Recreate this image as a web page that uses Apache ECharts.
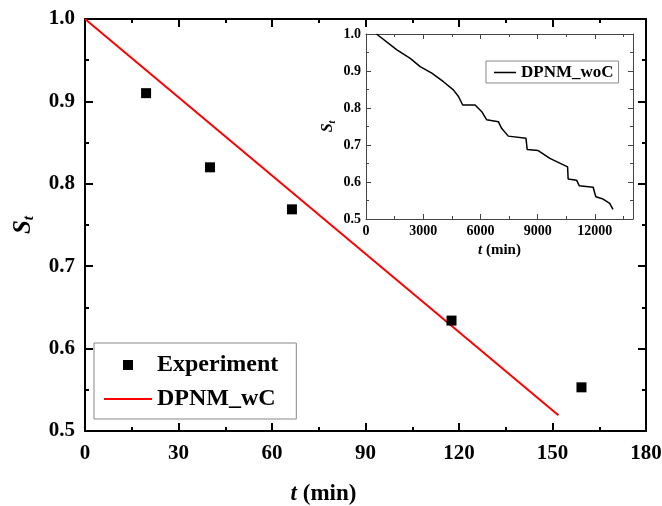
<!DOCTYPE html>
<html>
<head>
<meta charset="utf-8">
<script src="https://cdn.jsdelivr.net/npm/echarts@6/dist/echarts.min.js"></script>
<style>html,body{margin:0;padding:0;background:#fff;}#c{width:662px;height:506px;}</style>
</head>
<body>
<div id="c"></div>
<script>
// Main plot data
var expT = [19.6, 40.1, 66.4, 117.6, 159.3];
var expS = [0.910, 0.820, 0.769, 0.634, 0.553];
var wcT = [0, 151.9];
var wcS = [1.0, 0.519];
// Inset data (DPNM_woC)
var wocT = [550, 1620, 2320, 2840, 3450, 4060, 4580, 4850, 5070, 5720, 6070, 6330, 6940, 7110, 7460, 8390, 8450, 9030, 9640, 10570, 10600, 11040, 11180, 11910, 12050, 12430, 12780, 12950];
var wocS = [1.0, 0.957, 0.934, 0.912, 0.894, 0.871, 0.849, 0.831, 0.808, 0.808, 0.790, 0.768, 0.763, 0.745, 0.724, 0.718, 0.688, 0.685, 0.664, 0.641, 0.608, 0.605, 0.590, 0.586, 0.560, 0.554, 0.542, 0.526];
// Tick settings
var mainXTicks = {min: 0, max: 180, interval: 30};
var mainYTicks = {min: 0.5, max: 1.0, interval: 0.1};
var insetXTicks = {min: 0, max: 14000, interval: 3000};
var insetYTicks = {min: 0.5, max: 1.0, interval: 0.1};

function zip(a, b) { return a.map(function (v, i) { return [v, b[i]]; }); }

var FONT = 'Liberation Serif';
var chart = echarts.init(document.getElementById('c'), null, {renderer: 'canvas'});

function mainAxisBase(pos, showLabel) {
  return {
    type: 'value', position: pos,
    axisLine: {show: true, onZero: false, lineStyle: {color: '#000', width: 2}},
    axisTick: {show: true, inside: true, length: 8, lineStyle: {color: '#000', width: 2}},
    minorTick: {show: true, splitNumber: 2, length: 4, lineStyle: {color: '#000', width: 2}},
    splitLine: {show: false},
    axisLabel: {show: showLabel, color: '#000', fontFamily: FONT, fontWeight: 'bold', fontSize: 21}
  };
}
function insetAxisBase(pos, showLabel) {
  return {
    type: 'value', position: pos,
    axisLine: {show: true, onZero: false, lineStyle: {color: '#444', width: 1}},
    axisTick: {show: true, inside: true, length: 5, lineStyle: {color: '#444', width: 1}},
    minorTick: {show: true, splitNumber: 2, length: 3, lineStyle: {color: '#444', width: 1}},
    splitLine: {show: false},
    axisLabel: {show: showLabel, color: '#000', fontFamily: FONT, fontWeight: 'bold', fontSize: 14, margin: 5,
      showMaxLabel: pos === 'bottom' ? false : true,
      formatter: pos === 'bottom' ? function (v) { return String(v); } : function (v) { return v.toFixed(1); }}
  };
}

var xAxes = [
  Object.assign(mainAxisBase('bottom', true), mainXTicks, {gridIndex: 0,
    name: '{it|t} (min)', nameLocation: 'middle', nameGap: 52,
    nameTextStyle: {color: '#000', fontFamily: FONT, fontWeight: 'bold', fontSize: 23, padding: [0, 84, 0, 0],
      rich: {it: {fontStyle: 'italic', fontWeight: 'bold', fontFamily: FONT, fontSize: 23, color: '#000'}}},
    axisLabel: Object.assign(mainAxisBase('bottom', true).axisLabel, {margin: 12, formatter: function (v) { return String(v); }})}),
  Object.assign(mainAxisBase('top', false), mainXTicks, {gridIndex: 0}),
  Object.assign(insetAxisBase('bottom', true), insetXTicks, {gridIndex: 1,
    name: '{it|t} (min)', nameLocation: 'middle', nameGap: 24,
    nameTextStyle: {color: '#000', fontFamily: FONT, fontWeight: 'bold', fontSize: 15,
      rich: {it: {fontStyle: 'italic', fontWeight: 'bold', fontFamily: FONT, fontSize: 15, color: '#000'}}}}),
  Object.assign(insetAxisBase('top', false), insetXTicks, {gridIndex: 1})
];

var yAxes = [
  Object.assign(mainAxisBase('left', true), mainYTicks, {gridIndex: 0,
    name: '{s|S}{sub|t}', nameLocation: 'middle', nameGap: 48, nameRotate: 90,
    nameTextStyle: {color: '#000', rich: {
      s: {fontStyle: 'italic', fontWeight: 'bold', fontFamily: FONT, fontSize: 25, color: '#000'},
      sub: {fontStyle: 'italic', fontWeight: 'bold', fontFamily: FONT, fontSize: 15, color: '#000', padding: [12, 0, 0, 0]}
    }},
    axisLabel: Object.assign(mainAxisBase('left', true).axisLabel, {margin: 10, formatter: function (v) { return v.toFixed(1); }})}),
  Object.assign(mainAxisBase('right', false), mainYTicks, {gridIndex: 0}),
  Object.assign(insetAxisBase('left', true), insetYTicks, {gridIndex: 1,
    name: '{s|S}{sub|t}', nameLocation: 'middle', nameGap: 29, nameRotate: 90,
    nameTextStyle: {color: '#000', rich: {
      s: {fontStyle: 'italic', fontWeight: 'bold', fontFamily: FONT, fontSize: 16, color: '#000'},
      sub: {fontStyle: 'italic', fontWeight: 'bold', fontFamily: FONT, fontSize: 10, color: '#000', padding: [8, 0, 0, 0]}
    }}}),
  Object.assign(insetAxisBase('right', false), insetYTicks, {gridIndex: 1})
];

var option = {
  animation: false,
  backgroundColor: '#fff',
  grid: [
    {left: 85, top: 19, width: 561, height: 412, outerBoundsMode: 'none', containLabel: false},
    {left: 366, top: 34, width: 267, height: 185, backgroundColor: '#fff', show: true, borderWidth: 0, outerBoundsMode: 'none', containLabel: false}
  ],
  xAxis: xAxes,
  yAxis: yAxes,
  legend: [
    {
      orient: 'vertical', left: 94, top: 343,
      padding: [10, 18, 8, 10], itemGap: 10,
      itemWidth: 48, itemHeight: 10, symbolKeepAspect: true,
      borderColor: '#888', borderWidth: 1, backgroundColor: '#fff',
      textStyle: {color: '#000', fontFamily: FONT, fontWeight: 'bold', fontSize: 24},
      data: [
        {name: 'Experiment', icon: 'path://M0,0h10v10h-10z'},
        {name: 'DPNM_wC', icon: 'path://M0,0h100v4h-100z'}
      ]
    },
    {
      orient: 'vertical', left: 486, top: 61,
      padding: [3, 5, 2, 8], itemWidth: 22, itemHeight: 10, symbolKeepAspect: true,
      borderColor: '#888', borderWidth: 1, backgroundColor: '#fff',
      textStyle: {color: '#000', fontFamily: FONT, fontWeight: 'bold', fontSize: 17},
      data: [{name: 'DPNM_woC', icon: 'path://M0,0h100v7h-100z'}]
    }
  ],
  series: [
    {name: 'DPNM_wC', type: 'line', xAxisIndex: 0, yAxisIndex: 0, data: zip(wcT, wcS),
      showSymbol: false, symbol: 'none', lineStyle: {color: '#ff0000', width: 2}, itemStyle: {color: '#ff0000'}, z: 2},
    {name: 'Experiment', type: 'scatter', xAxisIndex: 0, yAxisIndex: 0, data: zip(expT, expS),
      symbol: 'rect', symbolSize: 10, itemStyle: {color: '#000', opacity: 1}, z: 3},
    {name: 'DPNM_woC', type: 'line', xAxisIndex: 2, yAxisIndex: 2, data: zip(wocT, wocS),
      showSymbol: false, symbol: 'none', lineStyle: {color: '#000', width: 1.5}, itemStyle: {color: '#000'}, z: 5}
  ]
};
chart.setOption(option);
</script>
</body>
</html>
